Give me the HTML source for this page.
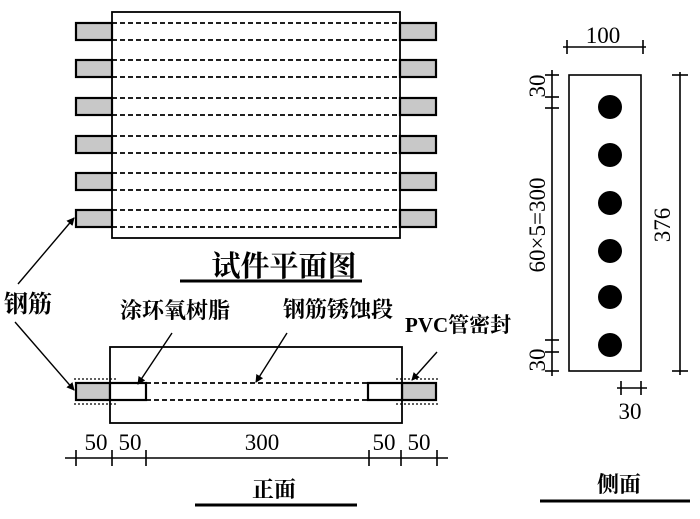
<!DOCTYPE html><html><head><meta charset="utf-8"><style>body{margin:0;background:#fff}svg{display:block}text{font-family:"Liberation Serif","Noto Serif CJK SC",serif;fill:#000}.b{font-weight:bold}</style></head><body>
<svg width="700" height="519" viewBox="0 0 700 519" xmlns="http://www.w3.org/2000/svg">
<defs><marker id="a" markerWidth="8" markerHeight="8" refX="7" refY="4" orient="auto" markerUnits="userSpaceOnUse"><path d="M0,0 L8,4 L0,8z" fill="#000"/></marker></defs>
<rect x="112" y="12" width="288" height="226" fill="none" stroke="#000" stroke-width="1.8"/>
<g stroke="#000" stroke-width="2.2" fill="#c8c8c8">
<rect x="76" y="23" width="36" height="17"/><rect x="400" y="23" width="36" height="17"/>
<rect x="76" y="60" width="36" height="17"/><rect x="400" y="60" width="36" height="17"/>
<rect x="76" y="98" width="36" height="17"/><rect x="400" y="98" width="36" height="17"/>
<rect x="76" y="136" width="36" height="17"/><rect x="400" y="136" width="36" height="17"/>
<rect x="76" y="173" width="36" height="17"/><rect x="400" y="173" width="36" height="17"/>
<rect x="76" y="210" width="36" height="17"/><rect x="400" y="210" width="36" height="17"/>
</g>
<g stroke="#000" stroke-width="1.8" stroke-dasharray="5,3">
<line x1="112" y1="23" x2="400" y2="23"/><line x1="112" y1="40" x2="400" y2="40"/>
<line x1="112" y1="60" x2="400" y2="60"/><line x1="112" y1="77" x2="400" y2="77"/>
<line x1="112" y1="98" x2="400" y2="98"/><line x1="112" y1="115" x2="400" y2="115"/>
<line x1="112" y1="136" x2="400" y2="136"/><line x1="112" y1="153" x2="400" y2="153"/>
<line x1="112" y1="173" x2="400" y2="173"/><line x1="112" y1="190" x2="400" y2="190"/>
<line x1="112" y1="210" x2="400" y2="210"/><line x1="112" y1="227" x2="400" y2="227"/>
<line x1="146" y1="383" x2="368" y2="383"/><line x1="146" y1="400" x2="368" y2="400"/>
</g>
<text class="b" x="284" y="276" font-size="29" text-anchor="middle">试件平面图</text>
<line x1="180" y1="281" x2="362" y2="281" stroke="#000" stroke-width="3"/>
<rect x="110" y="347" width="292" height="76" fill="none" stroke="#000" stroke-width="1.8"/>
<g stroke="#000" stroke-width="2.2"><rect x="76" y="383" width="34" height="17" fill="#c8c8c8"/><rect x="402" y="383" width="34" height="17" fill="#c8c8c8"/>
<rect x="110" y="383" width="36" height="17" fill="#fff"/><rect x="368" y="383" width="34" height="17" fill="#fff"/></g>
<g stroke="#000" stroke-width="1.2" stroke-dasharray="2,2"><line x1="74" y1="379" x2="117" y2="379"/><line x1="74" y1="404" x2="117" y2="404"/><line x1="396" y1="379" x2="438" y2="379"/><line x1="396" y1="404" x2="438" y2="404"/></g>
<g stroke="#000" stroke-width="1.4" marker-end="url(#a)">
<line x1="18" y1="284" x2="74" y2="218"/><line x1="15" y1="322" x2="74" y2="390"/>
<line x1="172" y1="333" x2="138" y2="384"/><line x1="287" y1="333" x2="256" y2="382"/><line x1="437" y1="352" x2="412" y2="380"/>
</g>
<text class="b" x="4" y="312" font-size="24">钢筋</text>
<text class="b" x="120" y="318" font-size="22">涂环氧树脂</text>
<text class="b" x="283" y="317" font-size="22">钢筋锈蚀段</text>
<text class="b" x="405" y="332" font-size="21">PVC管密封</text>
<g stroke="#000" stroke-width="1.6"><line x1="65" y1="458" x2="448" y2="458"/>
<line x1="76" y1="450" x2="76" y2="466"/><line x1="112" y1="450" x2="112" y2="466"/><line x1="146" y1="450" x2="146" y2="466"/><line x1="369" y1="450" x2="369" y2="466"/><line x1="401" y1="450" x2="401" y2="466"/><line x1="437" y1="450" x2="437" y2="466"/></g>
<g font-size="23" text-anchor="middle"><text x="96" y="450">50</text><text x="130" y="450">50</text><text x="262" y="450">300</text><text x="384" y="450">50</text><text x="419" y="450">50</text></g>
<text class="b" x="274" y="497" font-size="22" text-anchor="middle">正面</text>
<line x1="195" y1="505" x2="357" y2="505" stroke="#000" stroke-width="3"/>
<rect x="569" y="75" width="72" height="296" fill="none" stroke="#000" stroke-width="1.6"/>
<g fill="#000"><circle cx="610" cy="107" r="12"/><circle cx="610" cy="155" r="12"/><circle cx="610" cy="203" r="12"/><circle cx="610" cy="251" r="12"/><circle cx="610" cy="297" r="12"/><circle cx="610" cy="345" r="12"/></g>
<g stroke="#000" stroke-width="1.6">
<line x1="563" y1="47" x2="646" y2="47"/><line x1="567" y1="40" x2="567" y2="54"/><line x1="643" y1="40" x2="643" y2="54"/>
<line x1="552" y1="70" x2="552" y2="376"/><line x1="545" y1="75" x2="559" y2="75"/><line x1="545" y1="97" x2="559" y2="97"/><line x1="545" y1="108" x2="559" y2="108"/><line x1="545" y1="340" x2="559" y2="340"/><line x1="545" y1="352" x2="559" y2="352"/><line x1="545" y1="371" x2="559" y2="371"/>
<line x1="680" y1="72" x2="680" y2="375"/><line x1="672" y1="75" x2="688" y2="75"/><line x1="672" y1="371" x2="688" y2="371"/>
<line x1="617" y1="388" x2="647" y2="388"/><line x1="621" y1="381" x2="621" y2="395"/><line x1="641" y1="381" x2="641" y2="395"/>
</g>
<text x="603" y="43" font-size="23" text-anchor="middle">100</text>
<text x="630" y="419" font-size="23" text-anchor="middle">30</text>
<text transform="translate(545,86) rotate(-90)" font-size="23" text-anchor="middle">30</text>
<text transform="translate(545,225) rotate(-90)" font-size="23" text-anchor="middle">60×5=300</text>
<text transform="translate(545,360) rotate(-90)" font-size="23" text-anchor="middle">30</text>
<text transform="translate(670,225) rotate(-90)" font-size="23" text-anchor="middle">376</text>
<text class="b" x="619" y="492" font-size="22" text-anchor="middle">侧面</text>
<line x1="540" y1="501" x2="690" y2="501" stroke="#000" stroke-width="3"/>
</svg></body></html>
